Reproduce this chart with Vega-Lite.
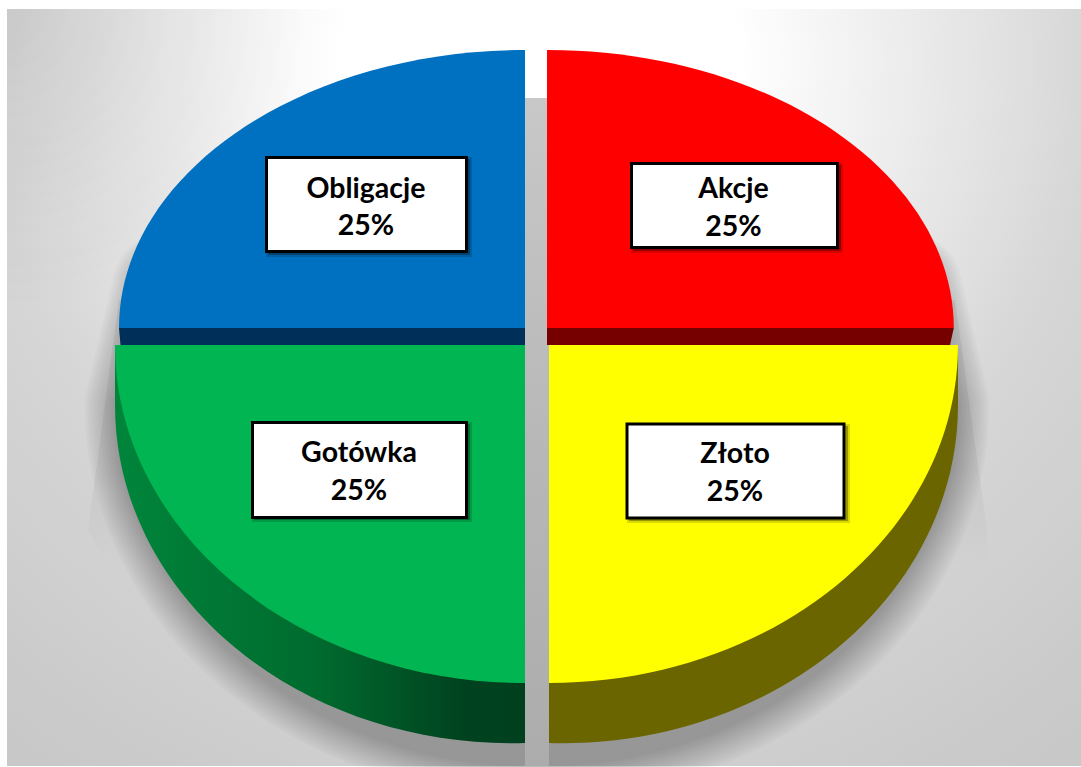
{
  "$schema": "https://vega.github.io/schema/vega-lite/v6.json",
  "width": 1081,
  "height": 767,
  "autosize": "none",
  "padding": 0,
  "background": "white",
  "config": {"view": {"stroke": null}, "font": "Lato"},
  "datasets": {
    "slices": [
      {"asset": "Akcje", "share": 0.25, "side": "right", "level": "upper"},
      {"asset": "Obligacje", "share": 0.25, "side": "left", "level": "upper"},
      {"asset": "Gotówka", "share": 0.25, "side": "left", "level": "lower"},
      {"asset": "Złoto", "share": 0.25, "side": "right", "level": "lower"}
    ],
    "stage": [{"side": "right", "level": "upper"}],
    "penumbra": [
      {"side": "right", "level": "upper", "ring": 1},
      {"side": "right", "level": "upper", "ring": 2},
      {"side": "right", "level": "upper", "ring": 3},
      {"side": "right", "level": "upper", "ring": 4},
      {"side": "right", "level": "upper", "ring": 5},
      {"side": "right", "level": "upper", "ring": 6},
      {"side": "right", "level": "upper", "ring": 7},
      {"side": "right", "level": "upper", "ring": 8},
      {"side": "right", "level": "upper", "ring": 9},
      {"side": "right", "level": "upper", "ring": 10},
      {"side": "right", "level": "upper", "ring": 11},
      {"side": "right", "level": "upper", "ring": 12},
      {"side": "right", "level": "upper", "ring": 13},
      {"side": "right", "level": "upper", "ring": 14}
    ]
  },
  "encoding": {
    "x": {"field": "side", "type": "nominal", "axis": null, "scale": {"domain": ["left", "right"], "range": [525, 548], "padding": 0}},
    "y": {"field": "level", "type": "nominal", "axis": null, "scale": {"domain": ["upper", "lower"], "range": [328, 345], "padding": 0}}
  },
  "layer": [
    {
      "description": "page backdrop",
      "data": {"name": "stage"},
      "mark": {"type": "point", "filled": true, "opacity": 1, "size": 4, "shape": "M-541,-319H533V438H-541Z",
        "fill": {"gradient": "radial", "x1": 0.496, "y1": 0.195, "r1": 0, "x2": 0.496, "y2": 0.195, "r2": 0.8,
          "stops": [{"offset": 0, "color": "#ffffff"}, {"offset": 0.23, "color": "#ffffff"}, {"offset": 0.44, "color": "#ebebeb"}, {"offset": 0.65, "color": "#d6d6d6"}, {"offset": 1, "color": "#c8c8c8"}]}}
    },
    {
      "description": "darker upper left corner of the backdrop",
      "data": {"name": "stage"},
      "mark": {"type": "point", "filled": true, "opacity": 1, "size": 4, "shape": "M-541,-319H-241V-19H-541Z",
        "fill": {"gradient": "radial", "x1": 0, "y1": 0, "r1": 0, "x2": 0, "y2": 0, "r2": 1,
          "stops": [{"offset": 0, "color": "rgba(0,0,0,0.07)"}, {"offset": 1, "color": "rgba(0,0,0,0)"}]}}
    },
    {
      "description": "hard wedge of the cast shadow, fading downward",
      "data": {"name": "stage"},
      "mark": {"type": "point", "filled": true, "opacity": 1, "size": 4, "shape": "M-429,-28L-460,202L-440,240H440L439,202L407,-28Z",
        "fill": {"gradient": "linear", "x1": 0, "y1": 0, "x2": 0, "y2": 1, "stops": [{"offset": 0, "color": "rgba(0,0,0,0.07)"}, {"offset": 0.65, "color": "rgba(0,0,0,0.05)"}, {"offset": 1, "color": "rgba(0,0,0,0)"}]}}
    },
    {
      "description": "soft edge of the cast shadow",
      "data": {"name": "penumbra"},
      "mark": {"type": "point", "filled": false, "size": 4, "opacity": 0.014, "stroke": "#000000", "strokeJoin": "round", "shape": "M-380,-40L-407,77A396,338 0 0 0 385,77L358,-40Z"},
      "encoding": {"strokeWidth": {"field": "ring", "type": "quantitative", "legend": null, "scale": {"domain": [1, 14], "range": [48, 112]}}}
    },
    {
      "description": "shadow seen through the gap between slices",
      "data": {"name": "stage"},
      "mark": {"type": "point", "filled": true, "opacity": 1, "size": 4, "shape": "M-23,-230H1V438H-23Z",
        "fill": {"gradient": "linear", "x1": 0, "y1": 0, "x2": 0, "y2": 1, "stops": [{"offset": 0, "color": "#c8c8c8"}, {"offset": 0.5, "color": "#b8b8b8"}, {"offset": 1, "color": "#acacac"}]}}
    },
    {
      "description": "rim of the lower right slice",
      "data": {"name": "slices"},
      "transform": [{"filter": "datum.asset === 'Złoto'"}],
      "mark": {"type": "point", "filled": true, "opacity": 1, "size": 4, "fill": "#6b6500", "shape": "M1,0H410V60A396,338 0 0 1 1,398Z"}
    },
    {
      "description": "rim of the lower left slice",
      "data": {"name": "slices"},
      "transform": [{"filter": "datum.asset === 'Gotówka'"}],
      "mark": {"type": "point", "filled": true, "opacity": 1, "size": 4, "shape": "M0,0H-410V60A396,338 0 0 0 0,398Z",
        "fill": {"gradient": "linear", "x1": 0, "y1": 0, "x2": 1, "y2": 0, "stops": [{"offset": 0, "color": "#00853b"}, {"offset": 0.5, "color": "#006a2e"}, {"offset": 0.85, "color": "#00421f"}, {"offset": 1, "color": "#00401e"}]}}
    },
    {
      "description": "front faces of the upper slices",
      "data": {"name": "slices"},
      "transform": [{"filter": "datum.level === 'upper'"}],
      "mark": {"type": "point", "filled": true, "opacity": 1, "size": 4},
      "encoding": {
        "shape": {"field": "asset", "legend": null, "scale": {"domain": ["Obligacje", "Akcje"], "range": ["M0,0V17H-404.5L-406,0Z", "M-1,0V17H402L405.8,0Z"]}},
        "color": {"field": "asset", "legend": null, "scale": {"domain": ["Obligacje", "Akcje"], "range": ["#00305a", "#760000"]}}
      }
    },
    {
      "description": "top faces of the four slices",
      "data": {"name": "slices"},
      "mark": {"type": "point", "filled": true, "opacity": 1, "size": 4},
      "encoding": {
        "shape": {"field": "asset", "legend": null, "scale": {"domain": ["Obligacje", "Akcje", "Gotówka", "Złoto"],
          "range": ["M0,0V-278A406,278 0 0 0 -406,0Z", "M-1,0V-278A406,278 0 0 1 405.8,0Z", "M0,0V338A410,338 0 0 1 -410,0Z", "M1,0V338A409,338 0 0 0 410,0Z"]}},
        "color": {"field": "asset", "legend": null, "scale": {"domain": ["Obligacje", "Akcje", "Gotówka", "Złoto"], "range": ["#0070c0", "#ff0000", "#00b552", "#ffff00"]}}
      }
    },
    {
      "description": "soft drop shadow of the label boxes",
      "data": {"name": "slices"},
      "mark": {"type": "point", "filled": true, "size": 4, "fill": "#000000", "fillOpacity": 0.3, "stroke": "#000000", "strokeOpacity": 0.15, "strokeWidth": 4, "opacity": 1},
      "encoding": {
        "shape": {"field": "asset", "legend": null, "scale": {"domain": ["Obligacje", "Akcje", "Gotówka", "Złoto"],
          "range": ["M-257,-169H-55V-73H-257Z", "M85,-163H293V-77H85Z", "M-271,79H-55V175H-271Z", "M81,81H300V176H81Z"]}}
      }
    },
    {
      "description": "label boxes",
      "data": {"name": "slices"},
      "mark": {"type": "point", "filled": true, "opacity": 1, "size": 4, "fill": "#ffffff", "stroke": "#000000", "strokeWidth": 3},
      "encoding": {
        "shape": {"field": "asset", "legend": null, "scale": {"domain": ["Obligacje", "Akcje", "Gotówka", "Złoto"],
          "range": ["M-258.5,-170.5H-58.5V-76.5H-258.5Z", "M83.5,-164.5H289.5V-80.5H83.5Z", "M-272.5,77.5H-58.5V172.5H-272.5Z", "M79,79H296V173H79Z"]}}
      }
    },
    {"data": {"name": "slices"}, "transform": [{"filter": "datum.asset === 'Obligacje'"}],
      "mark": {"type": "text", "font": "Lato", "fontWeight": "bold", "fontSize": 28.5, "fill": "#000000", "baseline": "alphabetic", "align": "center", "dx": -159, "dy": -130},
      "encoding": {"text": {"field": "asset"}}},
    {"data": {"name": "slices"}, "transform": [{"filter": "datum.asset === 'Obligacje'"}],
      "mark": {"type": "text", "font": "Lato", "fontWeight": "bold", "fontSize": 28.5, "fill": "#000000", "baseline": "alphabetic", "align": "center", "dx": -159, "dy": -93},
      "encoding": {"text": {"field": "share", "type": "quantitative", "format": ".0%"}}},
    {"data": {"name": "slices"}, "transform": [{"filter": "datum.asset === 'Akcje'"}],
      "mark": {"type": "text", "font": "Lato", "fontWeight": "bold", "fontSize": 28.5, "fill": "#000000", "baseline": "alphabetic", "align": "center", "dx": 185.5, "dy": -130},
      "encoding": {"text": {"field": "asset"}}},
    {"data": {"name": "slices"}, "transform": [{"filter": "datum.asset === 'Akcje'"}],
      "mark": {"type": "text", "font": "Lato", "fontWeight": "bold", "fontSize": 28.5, "fill": "#000000", "baseline": "alphabetic", "align": "center", "dx": 185.5, "dy": -92},
      "encoding": {"text": {"field": "share", "type": "quantitative", "format": ".0%"}}},
    {"data": {"name": "slices"}, "transform": [{"filter": "datum.asset === 'Gotówka'"}],
      "mark": {"type": "text", "font": "Lato", "fontWeight": "bold", "fontSize": 28.5, "fill": "#000000", "baseline": "alphabetic", "align": "center", "dx": -166, "dy": 117},
      "encoding": {"text": {"field": "asset"}}},
    {"data": {"name": "slices"}, "transform": [{"filter": "datum.asset === 'Gotówka'"}],
      "mark": {"type": "text", "font": "Lato", "fontWeight": "bold", "fontSize": 28.5, "fill": "#000000", "baseline": "alphabetic", "align": "center", "dx": -166, "dy": 155},
      "encoding": {"text": {"field": "share", "type": "quantitative", "format": ".0%"}}},
    {"data": {"name": "slices"}, "transform": [{"filter": "datum.asset === 'Złoto'"}],
      "mark": {"type": "text", "font": "Lato", "fontWeight": "bold", "fontSize": 28.5, "fill": "#000000", "baseline": "alphabetic", "align": "center", "dx": 187, "dy": 118},
      "encoding": {"text": {"field": "asset"}}},
    {"data": {"name": "slices"}, "transform": [{"filter": "datum.asset === 'Złoto'"}],
      "mark": {"type": "text", "font": "Lato", "fontWeight": "bold", "fontSize": 28.5, "fill": "#000000", "baseline": "alphabetic", "align": "center", "dx": 187, "dy": 156},
      "encoding": {"text": {"field": "share", "type": "quantitative", "format": ".0%"}}}
  ],
  "resolve": {"scale": {"shape": "independent", "color": "independent", "strokeWidth": "independent"}}
}
